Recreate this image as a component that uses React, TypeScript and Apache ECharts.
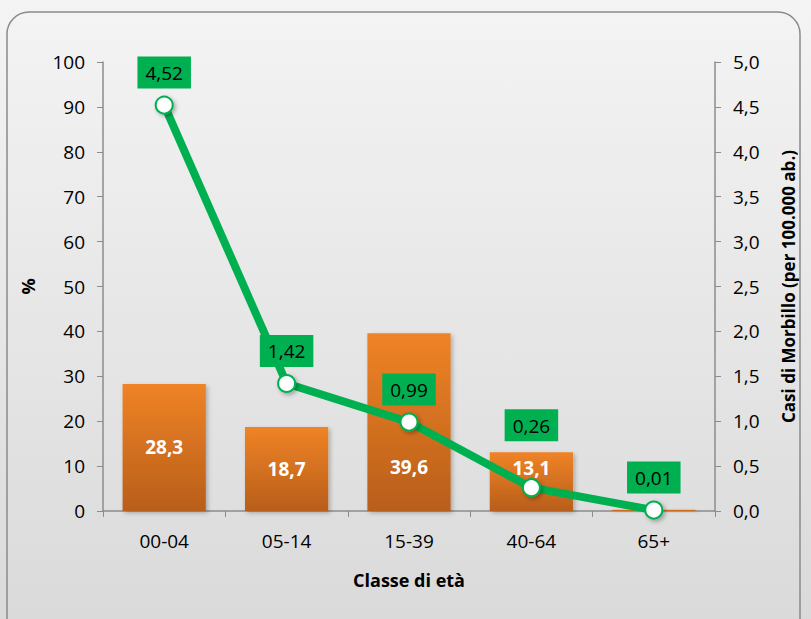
import React, { useEffect, useRef } from "react";
import * as echarts from "echarts";

const categories = ["00-04", "05-14", "15-39", "40-64", "65+"];
const percentValues = [28.3, 18.7, 39.6, 13.1, 0.3];
const percentLabels = ["28,3", "18,7", "39,6", "13,1", ""];
const incidenceValues = [4.52, 1.42, 0.99, 0.26, 0.01];
const incidenceLabels = ["4,52", "1,42", "0,99", "0,26", "0,01"];
const barLabelOffsets = [[0, 0], [0, 0], [0, 45], [0, -14], [0, 0]];
const lineLabelOffsets = [[0, 0], [0, 0], [0, 0], [0, -30], [0, 0]];

const FONT = "'Open Sans', 'Noto Sans', sans-serif";

export default function App() {
  const ref = useRef<HTMLDivElement>(null);
  useEffect(() => {
    const chart = echarts.init(ref.current!, undefined, { renderer: "svg" });
    chart.setOption({
      animation: false,
      backgroundColor: new echarts.graphic.LinearGradient(0, 0, 0, 1, [
        { offset: 0, color: "#f4f4f4" },
        { offset: 1, color: "#dadada" },
      ]),
      textStyle: { fontFamily: FONT },
      graphic: [
        {
          type: "rect",
          shape: { x: 7, y: 12, width: 793, height: 640, r: 22 },
          style: { fill: "transparent", stroke: "#8a8a8a", lineWidth: 1.5 },
          silent: true,
        },
      ],
      grid: { left: 103, right: 96, top: 62, bottom: 108 },
      xAxis: {
        type: "category",
        data: categories,
        name: "Classe di età",
        nameLocation: "middle",
        nameGap: 60,
        nameTextStyle: { fontSize: 18, fontWeight: "bold", color: "#000", fontFamily: FONT },
        axisLine: { lineStyle: { color: "#8c8c8c", width: 1.5 } },
        axisTick: { show: true, alignWithLabel: false, length: 6, lineStyle: { color: "#8c8c8c" } },
        axisLabel: { fontSize: 19, color: "#000", margin: 20, fontFamily: FONT },
      },
      yAxis: [
        {
          type: "value",
          min: 0,
          max: 100,
          interval: 10,
          name: "%",
          nameLocation: "middle",
          nameGap: 66,
          nameRotate: 90,
          nameTextStyle: { fontSize: 18, fontWeight: "bold", color: "#000", fontFamily: FONT },
          axisLine: { show: true, lineStyle: { color: "#8c8c8c", width: 1.5 } },
          axisTick: { show: true, length: 6, lineStyle: { color: "#8c8c8c" } },
          axisLabel: { fontSize: 19, color: "#000", margin: 18, fontFamily: FONT },
          splitLine: { show: false },
        },
        {
          type: "value",
          min: 0,
          max: 5,
          interval: 0.5,
          position: "right",
          name: "Casi di Morbillo (per 100.000 ab.)",
          nameLocation: "middle",
          nameGap: 65,
          nameRotate: 90,
          nameTextStyle: { fontSize: 17, fontWeight: "bold", color: "#000", fontFamily: FONT },
          axisLine: { show: true, lineStyle: { color: "#8c8c8c", width: 1.5 } },
          axisTick: { show: true, length: 6, lineStyle: { color: "#8c8c8c" } },
          axisLabel: {
            fontSize: 19,
            color: "#000",
            margin: 18,
            fontFamily: FONT,
            formatter: (v: number) => v.toFixed(1).replace(".", ","),
          },
          splitLine: { show: false },
        },
      ],
      series: [
        {
          type: "bar",
          yAxisIndex: 0,
          barWidth: "68%",
          data: percentValues.map((v, i) => ({
            value: v,
            label: { offset: barLabelOffsets[i] },
          })),
          itemStyle: {
            color: new echarts.graphic.LinearGradient(0, 0, 0, 1, [
              { offset: 0, color: "#ef8326" },
              { offset: 1, color: "#b85e1a" },
            ]),
            shadowColor: "rgba(0,0,0,0.25)",
            shadowBlur: 4,
            shadowOffsetX: 2,
            shadowOffsetY: 2,
          },
          label: {
            show: true,
            position: "inside",
            color: "#fff",
            fontWeight: "bold",
            fontSize: 19,
            fontFamily: FONT,
            formatter: (p: any) => percentLabels[p.dataIndex],
          },
          z: 2,
        },
        {
          type: "line",
          yAxisIndex: 1,
          data: incidenceValues.map((v, i) => ({
            value: v,
            label: { offset: lineLabelOffsets[i] },
          })),
          lineStyle: { color: "#00b050", width: 8 },
          itemStyle: {
            color: "#ffffff",
            borderColor: "#00b050",
            borderWidth: 2,
            shadowColor: "rgba(0,0,0,0.3)",
            shadowBlur: 4,
            shadowOffsetX: 2,
            shadowOffsetY: 2,
          },
          symbol: "circle",
          symbolSize: 17,
          label: {
            show: true,
            position: "top",
            distance: 7,
            backgroundColor: "#00b050",
            color: "#000",
            fontSize: 19,
            fontFamily: FONT,
            padding: [7, 8, 6, 8],
            formatter: (p: any) => incidenceLabels[p.dataIndex],
          },
          z: 3,
        },
      ],
    });
    return () => chart.dispose();
  }, []);
  return (
    <div
      ref={ref}
      style={{ position: "fixed", left: 0, top: 0, width: 811, height: 619 }}
    />
  );
}
